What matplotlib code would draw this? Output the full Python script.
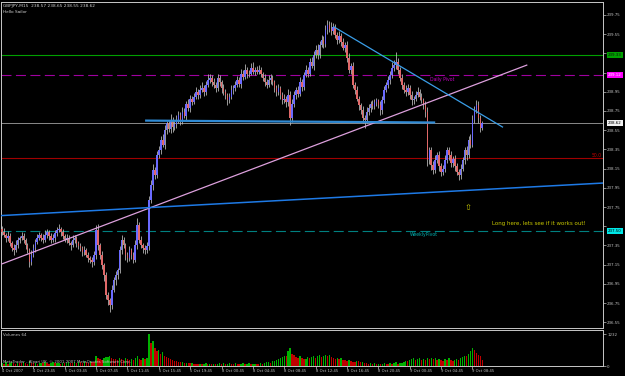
import matplotlib
matplotlib.use("Agg")
import matplotlib.pyplot as plt
import matplotlib.transforms as mtransforms
import numpy as np

# ---------------- data ----------------
first_open = 237.52
closes = [
    237.49, 237.46, 237.43, 237.45, 237.38, 237.32, 237.30, 237.35, 237.41, 237.43,
    237.45, 237.41, 237.35, 237.30, 237.18, 237.25, 237.32, 237.39, 237.43, 237.46,
    237.43, 237.41, 237.46, 237.49, 237.45, 237.41, 237.43, 237.48, 237.51, 237.52,
    237.49, 237.45, 237.41, 237.43, 237.38, 237.35, 237.41, 237.43, 237.37, 237.34,
    237.32, 237.28, 237.30, 237.25, 237.22, 237.20, 237.18, 237.25, 237.51, 237.35,
    237.25, 237.15, 237.04, 236.83, 236.78, 236.73, 236.89, 236.99, 237.04, 237.09,
    237.30, 237.41, 237.35, 237.25, 237.22, 237.30, 237.25, 237.20, 237.35, 237.56,
    237.41, 237.35, 237.32, 237.30, 237.34, 237.82, 237.98, 238.14, 238.08, 238.29,
    238.34, 238.45, 238.40, 238.55, 238.62, 238.56, 238.66, 238.58, 238.61, 238.66,
    238.71, 238.64, 238.74, 238.70, 238.82, 238.78, 238.88, 238.84, 238.90, 238.95,
    238.92, 238.97, 238.99, 238.95, 239.02, 239.07, 239.09, 239.05, 239.02, 238.99,
    239.09, 239.05, 238.99, 238.95, 238.92, 238.86, 238.90, 238.97, 238.99, 239.02,
    239.07, 239.03, 239.14, 239.10, 239.18, 239.13, 239.14, 239.20, 239.16, 239.18,
    239.16, 239.18, 239.14, 239.09, 239.05, 239.02, 239.07, 239.09, 239.05, 238.99,
    238.95, 238.99, 238.92, 238.86, 238.88, 238.84, 238.92, 238.68, 238.82, 238.92,
    238.97, 238.93, 239.05, 239.00, 239.12, 239.18, 239.14, 239.26, 239.22, 239.33,
    239.39, 239.33, 239.44, 239.49, 239.45, 239.59, 239.65, 239.60, 239.58, 239.62,
    239.54, 239.49, 239.53, 239.47, 239.41, 239.44, 239.30, 239.18, 239.22, 239.02,
    238.97, 238.88, 238.81, 238.76, 238.68, 238.66, 238.74, 238.78, 238.82, 238.80,
    238.84, 238.86, 238.81, 238.76, 238.86, 238.97, 239.02, 239.07, 239.12, 239.20,
    239.23, 239.26, 239.18, 239.09, 239.02, 238.97, 238.95, 238.99, 238.92, 238.86,
    238.88, 238.92, 238.95, 238.90, 238.86, 238.81, 238.74, 238.24, 238.34, 238.19,
    238.14, 238.24, 238.29, 238.18, 238.11, 238.15, 238.24, 238.34, 238.29, 238.21,
    238.25, 238.18, 238.11, 238.08, 238.15, 238.24, 238.34, 238.29, 238.45, 238.40,
    238.66, 238.76, 238.81, 238.68, 238.57, 238.62,
]
# upper / lower wick lengths in pips (0.01)
up_wick = [
    3, 4, 2, 5, 3, 2, 4, 6, 3, 2,   4, 3, 2, 3, 2, 5, 4, 3, 4, 3,
    2, 4, 5, 3, 2, 3, 4, 3, 3, 5,   2, 3, 2, 4, 3, 2, 5, 3, 2, 3,
    3, 2, 4, 2, 3, 2, 3, 4, 5, 6,   3, 4, 2, 3, 4, 2, 5, 3, 4, 3,
    4, 5, 3, 2, 3, 4, 2, 3, 6, 8,   3, 4, 2, 3, 5, 4, 5, 6, 3, 4,
    5, 4, 6, 5, 3, 4, 6, 3, 4, 5,   4, 3, 5, 4, 3, 5, 4, 3, 4, 5,
    3, 5, 6, 3, 4, 6, 5, 3, 4, 3,   5, 3, 2, 4, 3, 2, 4, 5, 3, 4,
    4, 3, 5, 4, 6, 3, 4, 5, 6, 3,   4, 5, 3, 2, 4, 3, 5, 4, 3, 2,
    3, 4, 2, 3, 5, 3, 6, 4, 5, 4,   3, 4, 5, 3, 4, 5, 3, 4, 5, 4,
    5, 6, 4, 5, 4, 6, 5, 4, 8, 5,   4, 3, 5, 3, 4, 3, 4, 5, 3, 4,
    3, 4, 3, 2, 4, 3, 5, 4, 3, 4,   4, 3, 2, 4, 5, 4, 3, 4, 5, 6,
    5, 10, 4, 3, 4, 3, 5, 4, 3, 4,  3, 4, 5, 3, 4, 3, 4, 5, 4, 3,
    4, 5, 3, 4, 3, 4, 5, 4, 3, 4,   3, 4, 3, 4, 5, 3, 4, 5, 4, 6,
    5, 4, 5, 4, 3, 3,
]
dn_wick = [
    3, 2, 4, 3, 4, 3, 5, 2, 3, 4,   2, 3, 4, 3, 5, 3, 2, 4, 3, 2,
    3, 4, 2, 3, 4, 3, 2, 4, 3, 2,   4, 3, 2, 4, 3, 5, 2, 3, 4, 3,
    3, 4, 3, 2, 4, 3, 5, 3, 4, 5,   4, 5, 6, 4, 5, 7, 4, 3, 5, 4,
    3, 4, 3, 5, 4, 3, 4, 3, 2, 4,   4, 3, 5, 4, 3, 4, 3, 5, 4, 3,
    3, 4, 3, 5, 4, 3, 4, 5, 3, 4,   3, 4, 3, 2, 4, 3, 4, 3, 2, 3,
    4, 3, 2, 4, 3, 2, 3, 4, 3, 4,   3, 4, 5, 3, 4, 5, 3, 2, 4, 3,
    2, 3, 4, 3, 2, 4, 3, 2, 3, 4,   3, 2, 4, 3, 4, 3, 2, 4, 3, 4,
    4, 3, 5, 4, 3, 5, 4, 8, 4, 3,   4, 3, 2, 4, 3, 2, 4, 3, 2, 4,
    3, 4, 3, 2, 4, 3, 4, 3, 4, 3,   3, 4, 3, 4, 3, 5, 4, 3, 4, 3,
    4, 3, 5, 4, 5, 9, 4, 3, 4, 3,   3, 4, 3, 5, 4, 3, 2, 3, 4, 3,
    3, 4, 5, 3, 4, 3, 4, 3, 4, 5,   4, 3, 2, 4, 3, 4, 5, 6, 4, 5,
    5, 4, 3, 5, 4, 3, 4, 3, 5, 4,   4, 5, 3, 5, 4, 3, 4, 5, 3, 4,
    3, 4, 3, 5, 4, 2,
]
volumes = [
    120, 90, 150, 80, 110, 140, 100, 90, 130, 110,
    100, 140, 120, 90, 180, 130, 100, 120, 90, 110,
    130, 100, 150, 120, 90, 110, 140, 100, 120, 130,
    90, 110, 100, 130, 150, 120, 100, 140, 110, 160,
    140, 120, 180, 150, 130, 200, 170, 160, 380, 300,
    260, 220, 300, 340, 360, 400, 320, 280, 260, 240,
    320, 280, 240, 300, 260, 220, 280, 250, 300, 380,
    260, 240, 300, 280, 320, 1232, 880, 980, 700, 560,
    620, 480, 520, 400, 360, 300, 260, 240, 200, 180,
    160, 140, 150, 120, 130, 110, 100, 120, 90, 80,
    70, 90, 60, 80, 100, 70, 90, 60, 80, 70,
    90, 120, 80, 100, 70, 90, 110, 80, 60, 100,
    80, 60, 90, 110, 70, 80, 100, 60, 70, 90,
    80, 70, 100, 90, 120, 140, 160, 130, 180, 200,
    220, 260, 300, 350, 400, 380, 560, 700, 480, 420,
    360, 300, 380, 320, 260, 280, 340, 300, 360, 400,
    320, 380, 420, 360, 400, 440, 380, 420, 360, 300,
    280, 320, 260, 300, 240, 220, 200, 240, 180, 160,
    150, 200, 180, 140, 160, 120, 100, 90, 120, 80,
    100, 70, 90, 60, 80, 110, 90, 70, 100, 80,
    120, 150, 90, 110, 130, 160, 200, 180, 220, 260,
    300, 240, 280, 320, 220, 260, 240, 300, 280, 320,
    260, 300, 220, 280, 240, 200, 260, 220, 300, 240,
    200, 240, 280, 220, 320, 360, 400, 380, 460, 560,
    700, 620, 500, 420, 380, 250,
]
time_labels = ["4 Oct 2007", "4 Oct 23:45", "5 Oct 03:45", "5 Oct 07:45",
               "5 Oct 11:45", "5 Oct 15:45", "5 Oct 19:45", "8 Oct 00:45",
               "8 Oct 04:45", "8 Oct 08:45", "8 Oct 12:45", "8 Oct 16:45",
               "8 Oct 20:45", "9 Oct 00:45", "9 Oct 04:45", "9 Oct 08:45"]
price_ticks = [239.75, 239.55, 239.35, 239.15, 238.95, 238.75, 238.55, 238.35,
               238.15, 237.95, 237.75, 237.55, 237.35, 237.15, 236.95, 236.75, 236.55]
hidden_ticks = [239.35, 239.15, 237.55]   # covered by the price boxes in the chart
level_green = 239.33
daily_pivot = 239.12
bid_price = 238.62
level_red = 238.26
weekly_pivot = 237.50
# trend lines: (bar, price) endpoints
pink_line = [(-1.0, 237.15), (268.0, 239.23)]
down_line = [(169.0, 239.63), (255.6, 238.58)]
long_blue = [(-1.0, 237.66), (307.0, 238.00)]
neck_line = [(73.0, 238.65), (221.0, 238.63)]
vol_max = 1232

# ---------------- figure ----------------
W, H = 625, 376
fig = plt.figure(figsize=(W / 100, H / 100), dpi=100, facecolor="black")

def rect(x0, y0, x1, y1):
    return [x0 / W, 1 - y1 / H, (x1 - x0) / W, (y1 - y0) / H]

ax = fig.add_axes(rect(1, 2, 603, 328), facecolor="black")
axv = fig.add_axes(rect(1, 330, 603, 366), facecolor="black", sharex=ax)

n = len(closes)
idx = np.arange(n)
c = np.array(closes)
o = np.array([first_open] + closes[:-1])
hi = np.maximum(o, c) + np.array(up_wick) / 100.0
lo = np.minimum(o, c) - np.array(dn_wick) / 100.0
bull = c >= o

ax.vlines(idx, lo, hi, color="#b4b4b4", lw=0.6, zorder=3)
ax.bar(idx[bull], (c - o)[bull], bottom=o[bull], width=0.8, color="#6a6aff",
       linewidth=0, zorder=4)
ax.bar(idx[~bull], (o - c)[~bull], bottom=c[~bull], width=0.8, color="#e06868",
       linewidth=0, zorder=4)

# horizontal levels
ax.axhline(level_green, color="#00a000", lw=0.8, zorder=2)
ax.axhline(daily_pivot, color="#a000a0", lw=0.8, dashes=(9, 4), zorder=2)
ax.axhline(bid_price, color="#8a8a8a", lw=0.7, zorder=2)
ax.axhline(level_red, color="#a00000", lw=0.8, zorder=2)
ax.axhline(weekly_pivot, color="#008080", lw=0.8, dashes=(9, 4), zorder=2)

# trend lines
for pts, col, lw in [(pink_line, "#dda0dd", 0.9), (down_line, "#3a9ee8", 0.9),
                     (long_blue, "#1e7ae6", 1.1), (neck_line, "#2f8ad4", 1.6)]:
    ax.plot([p[0] for p in pts], [p[1] for p in pts], color=col, lw=lw, zorder=5,
            solid_capstyle="butt")

# annotations
fs = 3.3
ax.text(218.5, 239.08, "Daily Pivot", color="#c000c0", fontsize=fs, va="center", ha="left")
ax.text(208.0, 237.46, "WeeklyPivot", color="#00b0b0", fontsize=fs, va="center", ha="left")
ax.text(306.0, 238.29, "50.0", color="#c00000", fontsize=fs, va="center", ha="right")
ax.text(274.0, 237.58, "Long here, lets see if it works out!", color="#c8c800",
        fontsize=4.0, va="center", ha="center")
ax.text(237.8, 237.74, "\u21e7", color="#c8c800", fontsize=6, va="center", ha="center")

# axes styling
ylo, yhi = 236.49, 239.885
ax.set_ylim(ylo, yhi)
ax.set_xlim(-0.5, 306.6)
ax.yaxis.tick_right()
ax.set_yticks(price_ticks)
ax.set_yticklabels(["" if p in hidden_ticks else f"{p:.2f}" for p in price_ticks])
ax.tick_params(axis="y", colors="#c0c0c0", labelsize=2.9, length=2, width=0.5, pad=1)
ax.tick_params(axis="x", bottom=False, labelbottom=False)
for s in ax.spines.values():
    s.set_color("#c8c8c8")
    s.set_linewidth(0.7)

# right-side price boxes
trans = mtransforms.blended_transform_factory(ax.transAxes, ax.transData)
for val, bg, fg in [(level_green, "#00a000", "#101010"), (daily_pivot, "#ff00ff", "#ffffff"),
                    (bid_price, "#f0f0f0", "#000000"), (weekly_pivot, "#00e8e8", "#000000")]:
    ax.text(1.008, val, f"{val:.2f}", transform=trans, fontsize=2.9, color=fg,
            ha="left", va="center", zorder=10, clip_on=False,
            bbox=dict(boxstyle="square,pad=0.25", fc=bg, ec="none"))

# volume panel
vol = np.array(volumes)
vcols = ["#00b000" if (i == 0 or vol[i] > vol[i - 1]) else "#c00000" for i in range(n)]
axv.bar(idx, vol, width=0.7, color=vcols, linewidth=0)
axv.set_ylim(0, vol_max * 36 / 32)
axv.yaxis.tick_right()
axv.set_yticks([0, vol_max])
axv.set_yticklabels(["0", str(vol_max)])
axv.tick_params(axis="y", colors="#c0c0c0", labelsize=2.9, length=2, width=0.5, pad=1)
tick_pos = np.arange(0, 16 * len(time_labels), 16)
axv.set_xticks(tick_pos)
axv.set_xticklabels(time_labels, ha="left")
axv.tick_params(axis="x", colors="#c0c0c0", labelsize=2.7, length=2, width=0.5, pad=0.5)
for s in axv.spines.values():
    s.set_color("#c8c8c8")
    s.set_linewidth(0.7)
axv.text(0.004, 0.86, "Volumes 64", transform=axv.transAxes, color="#c0c0c0",
         fontsize=2.9, va="center", ha="left")
axv.text(0.004, 0.12, "MetaTrader - Alpari UK, \u00a9 2001-2007 MetaQuotes Software Corp.",
         transform=axv.transAxes, color="#c0c0c0", fontsize=2.8, va="center", ha="left")

# header
fig.text(3 / W, 1 - 6 / H, "GBPJPY,M15  238.57 238.65 238.55 238.62", color="#d0d0d0",
         fontsize=3.1, va="center", ha="left")
fig.text(3 / W, 1 - 12 / H, "Hello Sailor", color="#d0d0d0", fontsize=3.1,
         va="center", ha="left")

fig.savefig("out.png", dpi=100, facecolor="black")
